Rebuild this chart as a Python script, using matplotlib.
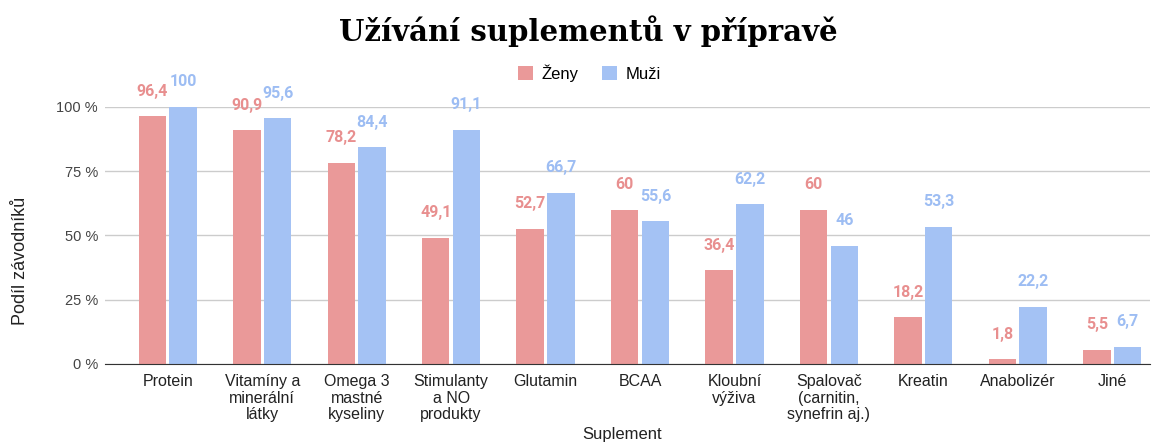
import matplotlib
matplotlib.use("Agg")
from matplotlib import pyplot as plt
import numpy as np

categories = ["Protein", "Vitamíny a\nminerální\nlátky", "Omega 3\nmastné\nkyseliny",
              "Stimulanty\na NO\nprodukty", "Glutamin", "BCAA", "Kloubní\nvýživa",
              "Spalovač\n(carnitin,\nsynefrin aj.)", "Kreatin", "Anabolizér", "Jiné"]
zeny = [96.4, 90.9, 78.2, 49.1, 52.7, 60, 36.4, 60, 18.2, 1.8, 5.5]
muzi = [100, 95.6, 84.4, 91.1, 66.7, 55.6, 62.2, 46, 53.3, 22.2, 6.7]
yticks = [0, 25, 50, 75, 100]

c_z = "#ea9999"
c_m = "#a4c2f4"
lab_z = "#e88f8f"
lab_m = "#9dbdf3"


def fmt(v):
    s = ("%g" % v).replace(".", ",")
    return s


fig = plt.figure(figsize=(11.56, 4.44), dpi=100)
ax = fig.add_axes([0.0908, 0.1802, 0.904, 0.579])

x = np.arange(len(categories))
w = 0.29
off = 0.163
b1 = ax.bar(x - off, zeny, w, color=c_z, label="Ženy", zorder=3)
b2 = ax.bar(x + off, muzi, w, color=c_m, label="Muži", zorder=3)

for xi, v in zip(x, zeny):
    ax.annotate(fmt(v), (xi - off, v), xytext=(0, 18), textcoords="offset points",
                ha="center", va="center", fontsize=11.5, fontweight="bold",
                color=lab_z, annotation_clip=False, family="Roboto")
for xi, v in zip(x, muzi):
    ax.annotate(fmt(v), (xi + off, v), xytext=(0, 18), textcoords="offset points",
                ha="center", va="center", fontsize=11.5, fontweight="bold",
                color=lab_m, annotation_clip=False, family="Roboto")

ax.set_xlim(-0.665, 10.4)
ax.set_ylim(0, 100)
ax.set_yticks(yticks)
ax.set_yticklabels(["%d %%" % t for t in yticks], fontsize=10.5, color="#444444",
                   family="Liberation Sans")
ax.set_xticks(x)
ax.set_xticklabels(categories, fontsize=11.5, color="#222222", family="Liberation Sans",
                   linespacing=1.15)
ax.tick_params(axis="both", length=0)
ax.tick_params(axis="x", pad=7)
ax.tick_params(axis="y", pad=5)
ax.grid(axis="y", color="#cccccc", linewidth=1, zorder=0)
for s in ["top", "right", "left"]:
    ax.spines[s].set_visible(False)
ax.spines["bottom"].set_color("#333333")
ax.spines["bottom"].set_zorder(4)

ax.set_ylabel("Podíl závodníků", fontsize=13, color="#222222", family="Liberation Sans")
ax.yaxis.set_label_coords(-0.073, 0.40)
ax.set_xlabel("Suplement", fontsize=12, color="#222222", family="Liberation Sans")
ax.xaxis.label.set_va("center")
ax.xaxis.set_label_coords(0.495, -0.275)

fig.text(0.509, 0.93, "Užívání suplementů v přípravě", ha="center", va="center",
         fontsize=21, fontweight="bold", family="DejaVu Serif")
fig.legend(handles=[b1, b2], loc="center", bbox_to_anchor=(0.51, 0.835), ncol=2,
           frameon=False, handlelength=0.9, handleheight=0.9,
           columnspacing=1.4, handletextpad=0.5, prop={"family": "Liberation Sans", "size": 12})

fig.savefig("out.png", dpi=100)
